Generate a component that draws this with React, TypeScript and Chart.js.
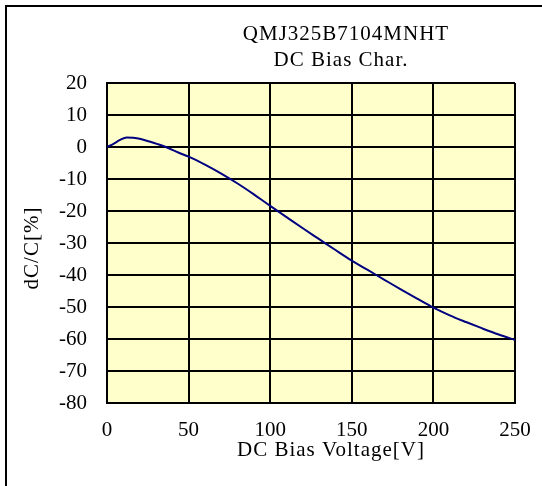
import React, { useEffect, useRef } from "react";
import { Chart, registerables } from "chart.js";

Chart.register(...registerables);

const chartTitle = ["QMJ325B7104MNHT", "DC Bias Char."];
const xAxisTitle = "DC Bias Voltage[V]";
const yAxisTitle = "dC/C[%]";

const voltages = [0, 4, 8, 12, 16, 20, 26, 31, 36, 44, 50, 60, 70, 80, 90, 100, 110, 120, 130, 140, 150, 160, 170, 180, 190, 200, 210, 220, 230, 240, 250];
const dcBias = [0, 1.0, 2.2, 3.0, 2.9, 2.6, 1.7, 0.9, 0, -1.8, -3.0, -5.5, -8.3, -11.4, -14.8, -18.4, -21.9, -25.4, -28.8, -32.2, -35.5, -38.5, -41.5, -44.5, -47.4, -50.2, -52.6, -54.7, -56.7, -58.6, -60.3];

const xMin = 0;
const xMax = 250;
const xStep = 50;
const yMin = -80;
const yMax = 20;
const yStep = 10;

const FONT = '"Liberation Serif", "Times New Roman", serif';

export default function App() {
  const ref = useRef<HTMLCanvasElement>(null);

  useEffect(() => {
    if (!ref.current) return;
    const bgPlugin = {
      id: "plotBg",
      beforeDraw(chart: any) {
        const { ctx, chartArea } = chart;
        ctx.save();
        ctx.fillStyle = "#FFFFCC";
        ctx.fillRect(chartArea.left, chartArea.top, chartArea.right - chartArea.left, chartArea.bottom - chartArea.top);
        ctx.restore();
      },
      afterDraw(chart: any) {
        const { ctx } = chart;
        ctx.save();
        ctx.fillStyle = "#000";
        ctx.font = `21px ${FONT}`;
        try {
          (ctx as any).letterSpacing = "1px";
        } catch (e) {}
        ctx.textAlign = "center";
        ctx.textBaseline = "middle";
        ctx.fillText(chartTitle[0], 346, 34);
        ctx.fillText(chartTitle[1], 341, 60);
        ctx.fillText(xAxisTitle, 331, 450);
        ctx.translate(32, 248);
        ctx.rotate(-Math.PI / 2);
        ctx.fillText(yAxisTitle, 0, 0);
        ctx.restore();
      },
    };

    const chart = new Chart(ref.current, {
      type: "line",
      data: {
        datasets: [
          {
            data: voltages.map((v, i) => ({ x: v, y: dcBias[i] })),
            borderColor: "#000080",
            borderWidth: 2,
            pointRadius: 0,
            cubicInterpolationMode: "monotone",
            fill: false,
          },
        ],
      },
      options: {
        responsive: false,
        animation: false,
        devicePixelRatio: 1,
        layout: { padding: { left: 0, right: 27, top: 83, bottom: 0 } },
        plugins: {
          legend: { display: false },
          tooltip: { enabled: false },
          title: { display: false },
        },
        scales: {
          x: {
            type: "linear",
            min: xMin,
            max: xMax,
            ticks: {
              stepSize: xStep,
              color: "#000",
              font: { family: FONT, size: 21 },
              padding: 15,
              maxRotation: 0,
            },
            grid: { color: "#000", lineWidth: 2, drawTicks: false },
            border: { color: "#000", width: 2 },
            afterFit(s: any) {
              s.height = 83;
              s.paddingLeft = 0;
              s.paddingRight = 0;
            },
          },
          y: {
            min: yMin,
            max: yMax,
            ticks: {
              stepSize: yStep,
              color: "#000",
              font: { family: FONT, size: 21 },
              padding: 20,
            },
            grid: { color: "#000", lineWidth: 2, drawTicks: false },
            border: { color: "#000", width: 2 },
            afterFit(s: any) {
              s.width = 107;
              s.paddingTop = 0;
              s.paddingBottom = 0;
            },
          },
        },
      },
      plugins: [bgPlugin],
    } as any);

    return () => chart.destroy();
  }, []);

  return (
    <div style={{ position: "fixed", left: 0, top: 0, width: 542, height: 486, overflow: "hidden", background: "#fff" }}>
      <div
        style={{
          position: "absolute",
          left: 5,
          top: 5,
          width: 600,
          height: 600,
          borderLeft: "2px solid #000",
          borderTop: "2px solid #000",
        }}
      />
      <canvas ref={ref} width={542} height={486} style={{ position: "absolute", left: 0, top: 0 }} />
    </div>
  );
}
